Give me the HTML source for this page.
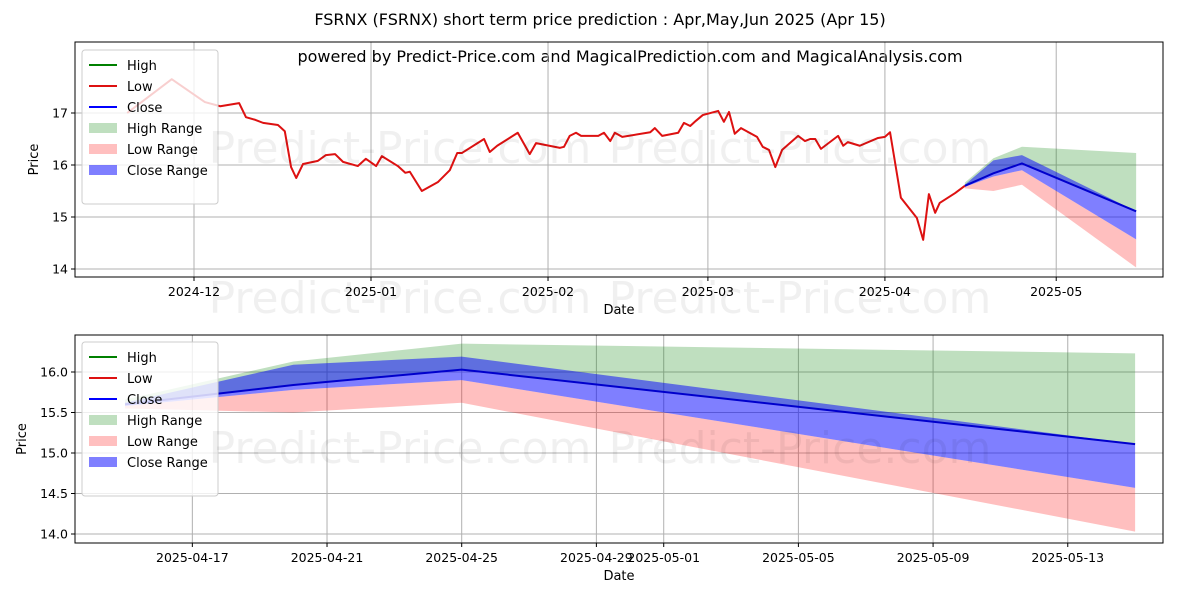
<!DOCTYPE html>
<html><head><meta charset="utf-8"><style>
body{margin:0;background:#fff;font-family:"DejaVu Sans","Liberation Sans",sans-serif}
svg text{font-family:"DejaVu Sans","Liberation Sans",sans-serif}
</style></head><body>
<svg id="c" width="1200" height="600" xmlns="http://www.w3.org/2000/svg"></svg>
<script>
// history: days since 2024-12-01 and low values
const histDays=[-11.7,-3.9,1.9,4.6,7.9,9.1,10.7,12.1,14.7,15.9,17.0,17.9,19.1,21.7,23.1,24.7,26.1,28.7,30.1,31.9,32.9,35.7,37.0,37.8,39.9,42.7,44.8,46.1,46.9,50.8,51.8,53.1,56.7,58.8,59.9,64.1,64.8,65.8,66.9,67.8,70.8,71.8,72.9,73.7,75.0,79.9,80.7,82.0,84.8,85.8,86.9,87.9,89.1,91.8,92.8,93.7,94.7,95.8,98.6,99.6,100.7,101.8,103.0,105.8,107.0,107.9,108.8,109.8,112.8,113.7,114.5,116.6,119.8,121.0,121.9,123.8,126.6,127.7,128.7,129.8,130.6,133.3,135];
const histLow=[17.0,17.65,17.21,17.13,17.19,16.92,16.87,16.81,16.77,16.65,15.96,15.75,16.02,16.08,16.19,16.21,16.06,15.98,16.12,15.98,16.17,15.98,15.85,15.87,15.50,15.67,15.90,16.23,16.23,16.50,16.25,16.37,16.62,16.21,16.42,16.33,16.35,16.56,16.62,16.56,16.56,16.62,16.46,16.62,16.54,16.63,16.71,16.56,16.62,16.81,16.75,16.85,16.96,17.04,16.83,17.02,16.60,16.71,16.54,16.35,16.29,15.96,16.29,16.56,16.46,16.50,16.50,16.31,16.56,16.37,16.44,16.37,16.52,16.54,16.63,15.37,14.98,14.56,15.44,15.08,15.27,15.46,15.60];
// prediction: days since 2025-04-15
const predDays=[0,5,10,30];
const highUp=[15.66,16.13,16.35,16.23];
const highDn=[15.60,15.84,16.03,15.11];
const closeUp=[15.62,16.09,16.19,15.11];
const closeDn=[15.58,15.78,15.90,14.57];
const closeV=[15.60,15.84,16.03,15.11];
const lowUp=[15.58,15.78,15.90,14.57];
const lowDn=[15.55,15.50,15.62,14.03];
const topYTicks=[14,15,16,17];
const topXTickDays=[0,31,62,90,121,151];
const topXTickLabels=["2024-12","2025-01","2025-02","2025-03","2025-04","2025-05"];
const botYTicks=[14.0,14.5,15.0,15.5,16.0];
const botXTickDays=[2,6,10,14,16,20,24,28];
const botXTickLabels=["2025-04-17","2025-04-21","2025-04-25","2025-04-29","2025-05-01","2025-05-05","2025-05-09","2025-05-13"];

const S=document.getElementById('c');const NS="http://www.w3.org/2000/svg";
function el(t,a,p){const e=document.createElementNS(NS,t);for(const k in a)e.setAttribute(k,a[k]);(p||S).appendChild(e);return e;}
function txt(x,y,s,a){const e=el('text',Object.assign({x:x,y:y},a||{}));e.textContent=s;return e;}

const t1=txt(600,25,"FSRNX (FSRNX) short term price prediction : Apr,May,Jun 2025 (Apr 15)",{'text-anchor':'middle','font-size':16});

const t2=txt(630,62,"powered by Predict-Price.com and MagicalPrediction.com and MagicalAnalysis.com",{'text-anchor':'middle','font-size':16});


function panel(cfg){
  const g=el('g',{});
  
  
  const {L,R,T,B}=cfg;
  const X=cfg.X,Y=cfg.Y;
  // watermarks
  cfg.wm.forEach(w=>{const e=txt(w[0],w[1],"Predict-Price.com",{'font-size':44,fill:'#000','fill-opacity':0.06,'text-anchor':'middle'},g);
    });
  // grid
  cfg.yt.forEach(v=>{el('line',{x1:L,x2:R,y1:Y(v),y2:Y(v),stroke:'#b0b0b0','stroke-width':1},g);
    el('line',{x1:L-4,x2:L,y1:Y(v),y2:Y(v),stroke:'#000'},g);
    const e=txt(L-7,Y(v)+4.5,cfg.yfmt(v),{'text-anchor':'end','font-size':12.5},g);
    });
  cfg.xt.forEach((d,i)=>{const x=X(d);el('line',{x1:x,x2:x,y1:T,y2:B,stroke:'#b0b0b0'},g);
    el('line',{x1:x,x2:x,y1:B,y2:B+4,stroke:'#000'},g);
    const e=txt(x,B+19,cfg.xl[i],{'text-anchor':'middle','font-size':12.5},g);
    });
  function band(up,dn,fill,op,nm){let d='';predDays.forEach((p,i)=>{d+=(i?'L':'M')+cfg.PX(p)+','+Y(up[i]);});
    for(let i=predDays.length-1;i>=0;i--)d+='L'+cfg.PX(predDays[i])+','+Y(dn[i]);
    const e=el('path',{d:d+'Z',fill:fill,'fill-opacity':op},g);}
  band(highUp,highDn,'#008000',0.25,'high-range');
  band(lowUp,lowDn,'#ff0000',0.25,'low-range');
  band(closeUp,closeDn,'#0000ff',0.5,'close-range');
  if(cfg.hist){const pts=histDays.map((d,i)=>X(d)+','+Y(histLow[i])).join(' ');
    const e=el('polyline',{points:pts,fill:'none',stroke:'#dd1111','stroke-width':2,'stroke-linejoin':'round'},g);
    }
  const cp=predDays.map((p,i)=>cfg.PX(p)+','+Y(closeV[i])).join(' ');
  const cl=el('polyline',{points:cp,fill:'none',stroke:'#0000cc','stroke-width':2},g);
  
  el('rect',{x:L,y:T,width:R-L,height:B-T,fill:'none',stroke:'#000','stroke-width':1},g);
  const xl=txt((L+R)/2,B+37,"Date",{'text-anchor':'middle','font-size':13},g);
  
  const yl=txt(0,0,"Price",{'text-anchor':'middle','font-size':13,transform:`translate(${cfg.ylx},${(T+B)/2}) rotate(-90)`},g);
  
  // legend
  const lg=el('g',{},g);
  const lx=L+7,ly=cfg.ly;
  el('rect',{x:lx,y:ly,width:136,height:154,rx:3,fill:'#fff','fill-opacity':0.8,stroke:'#ccc'},lg);
  const items=[['High','line','#008000'],['Low','line','#dd1111'],['Close','line','#0000ff'],['High Range','box','rgba(0,128,0,0.25)'],['Low Range','box','rgba(255,0,0,0.25)'],['Close Range','box','rgba(0,0,255,0.5)']];
  items.forEach((it,i)=>{const y=ly+14+i*21;const ig=el('g',{},lg);
    
    if(it[1]=='line')el('line',{x1:lx+7,x2:lx+35,y1:y+1,y2:y+1,stroke:it[2],'stroke-width':2},ig);
    else el('rect',{x:lx+7,y:y-4,width:28,height:10,fill:it[2]},ig);
    txt(lx+45,y+6,it[0],{'font-size':13},ig);});
}
// top panel
panel({name:'top-panel',L:75,R:1163,T:42,B:277,
  X:d=>194+d*5.71,PX:p=>194+(135+p)*5.71,Y:v=>113-(v-17)*52,
  yt:topYTicks,yfmt:v=>String(v),xt:topXTickDays,xl:topXTickLabels,hist:true,ly:50,ylx:38,
  wm:[[400,163],[800,163],[400,313],[800,313]]});
panel({name:'bottom-panel',L:75,R:1163,T:335,B:543,
  X:d=>125+d*33.67,PX:p=>125+p*33.67,Y:v=>372-(v-16)*81,
  yt:botYTicks,yfmt:v=>v.toFixed(1),xt:botXTickDays,xl:botXTickLabels,hist:false,ly:342,ylx:26,
  wm:[[400,463],[800,463]]});
</script>
</body></html>
